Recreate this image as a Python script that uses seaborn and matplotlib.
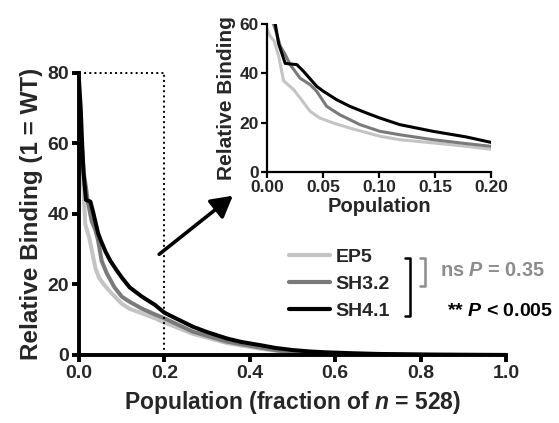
import numpy as np
import pandas as pd
import matplotlib
matplotlib.use("Agg")
import matplotlib.pyplot as plt
import seaborn as sns
from matplotlib.lines import Line2D

# --- data (population fraction, relative binding) ---
ep5_x = [0.0, 0.003, 0.0065, 0.0104, 0.0148, 0.0237, 0.0296, 0.0385, 0.047, 0.059,
         0.074, 0.1007, 0.1185, 0.148, 0.178, 0.2, 0.267, 0.346, 0.424, 0.5,
         0.58, 0.7, 0.85, 1.0]
ep5_y = [58, 55, 53, 47, 37, 33.4, 30, 24.6, 21.9, 19.9,
         17.8, 14.5, 13.1, 11.8, 10.4, 9.2, 6.0, 3.4, 1.8, 0.5,
         0.3, 0.12, 0.04, 0.0]

sh32_x = [0.0, 0.004, 0.0074, 0.0119, 0.0163, 0.0207, 0.0296, 0.0385, 0.0444, 0.0533,
          0.065, 0.083, 0.1007, 0.1185, 0.148, 0.178, 0.2, 0.267, 0.346, 0.424,
          0.5, 0.58, 0.7, 0.85, 1.0]
sh32_y = [66, 62, 58, 51, 47.6, 43.5, 38, 35.4, 32.7, 26.6,
          23.2, 19.2, 16.5, 15.1, 13.1, 11.5, 10.4, 6.6, 3.8, 2.1,
          0.6, 0.35, 0.15, 0.05, 0.0]

sh41_x = [0.0, 0.004, 0.0074, 0.0104, 0.0163, 0.0267, 0.0326, 0.0444, 0.0504, 0.0622,
          0.074, 0.0889, 0.1007, 0.1185, 0.148, 0.178, 0.2, 0.23, 0.267, 0.3,
          0.346, 0.38, 0.424, 0.46, 0.5, 0.54, 0.58, 0.64, 0.7, 0.76, 0.82, 0.9, 1.0]
sh41_y = [78, 70, 60, 52, 44, 43.5, 40.8, 34.7, 32.7, 29.3,
          26.6, 23.9, 21.9, 19.2, 16.5, 14.2, 12.0, 10.2, 8.0, 6.5,
          4.7, 3.7, 2.8, 2.0, 1.4, 1.0, 0.75, 0.5, 0.3, 0.2, 0.1, 0.05, 0.0]

series_names = ["EP5", "SH3.2", "SH4.1"]
series_colors = ["#c4c4c4", "#7a7a7a", "#000000"]

main_xticks = [0.0, 0.2, 0.4, 0.6, 0.8, 1.0]
main_yticks = [0, 20, 40, 60, 80]
inset_xticks = [0.0, 0.05, 0.10, 0.15, 0.20]
inset_yticks = [0, 20, 40, 60]

df = pd.concat([
    pd.DataFrame({"pop": ep5_x, "binding": ep5_y, "clone": "EP5"}),
    pd.DataFrame({"pop": sh32_x, "binding": sh32_y, "clone": "SH3.2"}),
    pd.DataFrame({"pop": sh41_x, "binding": sh41_y, "clone": "SH4.1"}),
])
palette = dict(zip(series_names, series_colors))

sns.set_style("ticks")
plt.rcParams["font.family"] = ["Liberation Sans", "DejaVu Sans"]
plt.rcParams["font.weight"] = "bold"
plt.rcParams["mathtext.fontset"] = "custom"
plt.rcParams["mathtext.it"] = "Liberation Sans:italic:bold"
plt.rcParams["mathtext.rm"] = "Liberation Sans:bold"

fig = plt.figure(figsize=(5.59, 4.23), dpi=100)
ax = fig.add_axes([0.1413, 0.1608, 0.7639, 0.6667])
axin = fig.add_axes([0.4776, 0.5934, 0.4007, 0.350])


def style_axes(a, lw, ticklen, size):
    for s in ["top", "right"]:
        a.spines[s].set_visible(False)
    for s in ["left", "bottom"]:
        a.spines[s].set_linewidth(lw)
        a.spines[s].set_color("black")
    a.tick_params(width=lw, length=ticklen, labelsize=size, color="black", pad=2)
    for lab in a.get_xticklabels() + a.get_yticklabels():
        lab.set_fontweight("bold")


# --- main panel ---
sns.lineplot(data=df, x="pop", y="binding", hue="clone", palette=palette,
             estimator=None, linewidth=2.9, legend=False, ax=ax)
ax.set_xlim(0, 1)
ax.set_ylim(0, 80)
ax.set_xticks(main_xticks)
ax.set_xticklabels([f"{t:.1f}" for t in main_xticks])
ax.set_yticks(main_yticks)
ax.set_yticklabels([str(t) for t in main_yticks])
ax.set_xlabel(r"Population (fraction of $n$ = 528)", fontsize=16.5, fontweight="bold", labelpad=5)
ax.set_ylabel("Relative Binding (1 = WT)", fontsize=17.5, fontweight="bold", labelpad=3)
style_axes(ax, 2.8, 5, 14)

# dotted zoom box
ax.plot([0, 0.2], [80, 80], ls=":", color="black", lw=1.4, clip_on=False)
ax.plot([0.2, 0.2], [0, 80], ls=":", color="black", lw=1.4, clip_on=False)

# --- inset panel ---
sns.lineplot(data=df, x="pop", y="binding", hue="clone", palette=palette,
             estimator=None, linewidth=2.2, legend=False, ax=axin)
axin.set_xlim(0, 0.2)
axin.set_ylim(0, 60)
axin.set_xticks(inset_xticks)
axin.set_xticklabels([f"{t:.2f}" for t in inset_xticks])
axin.set_yticks(inset_yticks)
axin.set_yticklabels([str(t) for t in inset_yticks])
axin.set_xlabel("Population", fontsize=14.5, fontweight="bold", labelpad=1)
axin.set_ylabel("Relative Binding", fontsize=15, fontweight="bold", labelpad=2)
style_axes(axin, 1.6, 4, 12.5)

# --- arrow ---
fig.patches.append(matplotlib.patches.FancyArrowPatch(
    (157 / 559, 1 - 256 / 423), (235 / 559, 1 - 194 / 423),
    transform=fig.transFigure, arrowstyle="-|>,head_length=8,head_width=4.5",
    color="black", lw=2.6, mutation_scale=1.6))

# --- legend ---
handles = [Line2D([], [], color=c, lw=3) for c in series_colors]
fig.legend(handles, series_names, loc="upper left",
           bbox_to_anchor=(289 / 559, 1 - 248 / 423), frameon=False,
           prop={"size": 14, "weight": "bold"}, handlelength=2.1,
           handletextpad=0.3, labelspacing=0.5, borderaxespad=0, borderpad=0)

# --- significance brackets ---
def bracket(x, y0, y1, color):
    xf = x / 559
    tick = 5 / 559
    ys = [1 - y0 / 423, 1 - y1 / 423]
    fig.add_artist(Line2D([xf - tick, xf, xf, xf - tick], [ys[0], ys[0], ys[1], ys[1]],
                          transform=fig.transFigure, color=color, lw=1.8))


bracket(410, 258, 316, "black")
bracket(425, 258, 286, "#8c8c8c")
fig.text(440 / 559, 1 - 270 / 423, r"ns $P$ = 0.35", color="#8c8c8c",
         fontsize=14.3, fontweight="bold", va="center", ha="left")
fig.text(447 / 559, 1 - 311 / 423, r"** $P$ < 0.005", color="black",
         fontsize=14, fontweight="bold", va="center", ha="left")

fig.savefig("out.png", dpi=100)
